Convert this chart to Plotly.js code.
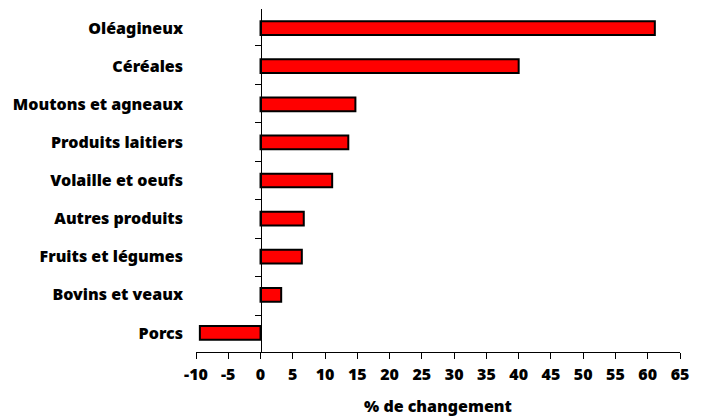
<!DOCTYPE html>
<html>
<head>
<meta charset="utf-8">
<script src="https://cdn.plot.ly/plotly-3.0.1.min.js"></script>
<style>html,body{margin:0;padding:0;background:#fff}#chart{width:701px;height:420px}</style>
</head>
<body>
<div id="chart"></div>
<script>
const categories = ["Oléagineux","Céréales","Moutons et agneaux","Produits laitiers","Volaille et oeufs","Autres produits","Fruits et légumes","Bovins et veaux","Porcs"];
const values = [61.1, 40.0, 14.7, 13.6, 11.1, 6.7, 6.4, 3.2, -9.4];
const tickVals = [-10,-5,0,5,10,15,20,25,30,35,40,45,50,55,60,65];
const tickLabels = ["-10","-5","0","5","10","15","20","25","30","35","40","45","50","55","60","65"];
const xTitle = "% de changement";

const FONT = "Noto Sans, Open Sans, sans-serif";
const FS = 16;
const FW = 900;

const traces = [
  {
    type: "bar", orientation: "h",
    x: values, y: categories,
    width: 0.36,
    marker: {color: "#ff0000", line: {color: "#000000", width: 2}},
    hoverinfo: "x+y"
  },
  {
    type: "scatter", mode: "none",
    x: values, y: categories, yaxis: "y2",
    hoverinfo: "skip", showlegend: false
  }
];

const layout = {
  width: 701, height: 420,
  margin: {l: 196, r: 21, t: 9, b: 68},
  paper_bgcolor: "#ffffff", plot_bgcolor: "#ffffff",
  showlegend: false,
  font: {family: FONT, color: "#000000", size: FS, weight: FW},
  xaxis: {
    range: [-10, 65], fixedrange: true,
    tickvals: tickVals, ticktext: tickLabels,
    showgrid: false, zeroline: false,
    showline: true, linecolor: "#000000", linewidth: 1,
    ticks: "outside", ticklen: 6, tickwidth: 1, tickcolor: "#000000",
    ticklabelstandoff: 2,
    tickfont: {family: FONT, size: FS, weight: FW, color: "#000000"},
    title: {text: xTitle, font: {family: FONT, size: FS, weight: FW, color: "#000000"}, standoff: 16}
  },
  yaxis: {
    type: "category", categoryorder: "array", categoryarray: categories,
    autorange: "reversed", fixedrange: true,
    showgrid: false, zeroline: false, showline: false, ticks: "",
    ticklabelstandoff: 12,
    tickfont: {family: FONT, size: FS, weight: FW, color: "#000000"}
  },
  yaxis2: {
    type: "category", categoryorder: "array", categoryarray: categories,
    autorange: "reversed", overlaying: "y", anchor: "free",
    position: 10/75, side: "left",
    showgrid: false, zeroline: false, showticklabels: false,
    showline: true, linecolor: "#000000", linewidth: 1,
    ticks: "outside", ticklen: 6, tickwidth: 1, tickcolor: "#000000",
    tickson: "boundaries", fixedrange: true
  }
};

Plotly.newPlot("chart", traces, layout, {displayModeBar: false, staticPlot: true});
</script>
</body>
</html>
